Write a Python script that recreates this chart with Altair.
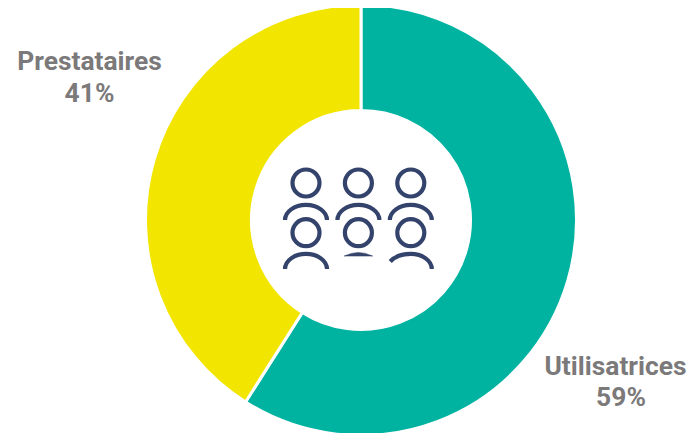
import altair as alt
import pandas as pd

groups = ["Utilisatrices", "Prestataires"]
shares = [59, 41]
colors = ["#00B3A1", "#F2E500"]
columns = [1, 2, 3, 1, 2, 3]
rows = [1, 1, 1, 2, 2, 2]
shoulders = ["full", "full", "full", "full", "flat", "cut"]

W, H = 679, 425
INK = "#34436B"
GREY = "#7B7979"


def p(v):
    return v - 8


pie = pd.DataFrame({"group": groups, "share": shares, "order": [0, 1]})
people = pd.DataFrame({"col": columns, "row": rows, "shoulder": shoulders})

donut = alt.Chart(pie).mark_arc(
    innerRadius=109.5, outerRadius=215.5, stroke="white", strokeWidth=3
).encode(
    theta=alt.Theta("share:Q", stack=True),
    order=alt.Order("order:Q"),
    color=alt.Color("group:N", scale=alt.Scale(domain=groups, range=colors), legend=None),
    x=alt.value(p(361)),
    y=alt.value(p(220)),
)

colx = alt.X("col:Q", axis=None, scale=alt.Scale(domain=[1, 3], range=[p(306), p(410.8)]))
heady = alt.Y("row:Q", axis=None, scale=alt.Scale(domain=[1, 2], range=[p(183), p(232.7)]))
shouldery = alt.Y("row:Q", axis=None, scale=alt.Scale(domain=[1, 2], range=[p(212.5), p(261.5)]))
flaty = alt.Y("row:Q", axis=None, scale=alt.Scale(domain=[1, 2], range=[p(205), p(254)]))

heads = alt.Chart(people).mark_point(
    shape="circle", filled=False, size=729, stroke=INK, strokeWidth=4.2, opacity=1
).encode(x=colx, y=heady)

FULL = "M -1 0.36 A 1 0.72 0 0 1 1 0.36"
CUT = "M -0.98 0.0 C -0.7 -0.3 -0.3 -0.36 0 -0.36 A 1 0.72 0 0 1 1 0.36"
FLAT = "M -0.68 0.1 Q 0 -0.25 0.68 0.1 Z"

full = alt.Chart(people).transform_filter("datum.shoulder == 'full'").mark_point(
    shape=FULL, filled=False, size=1764, stroke=INK, strokeWidth=4.2, opacity=1
).encode(x=colx, y=shouldery)
cut = alt.Chart(people).transform_filter("datum.shoulder == 'cut'").mark_point(
    shape=CUT, filled=False, size=1764, stroke=INK, strokeWidth=4.2, opacity=1
).encode(x=colx, y=shouldery)
flat = alt.Chart(people).transform_filter("datum.shoulder == 'flat'").mark_point(
    shape=FLAT, filled=True, size=1764, fill=INK, stroke=INK, strokeWidth=0.5, opacity=1
).encode(x=colx, y=flaty)


def label(text, x, y):
    return alt.Chart(pd.DataFrame({"t": [text]})).mark_text(
        font="Roboto", fontWeight="bold", fontSize=26.4, color=GREY, align="center", baseline="middle"
    ).encode(text="t:N", x=alt.value(p(x)), y=alt.value(p(y)))


labels = [
    label(f"{groups[1]}", 89.5, 62),
    label(f"{shares[1]}%", 89.5, 94),
    label(f"{groups[0]}", 615.5, 367),
    label(f"{shares[0]}%", 621, 398),
]

chart = alt.layer(donut, heads, full, cut, flat, *labels).resolve_scale(
    x="independent", y="independent"
).properties(
    width=W, height=H, padding=0, autosize=alt.AutoSizeParams(type="none")
).configure_view(stroke=None)

chart.save("out.html", embed_options={"renderer": "svg", "actions": False})
